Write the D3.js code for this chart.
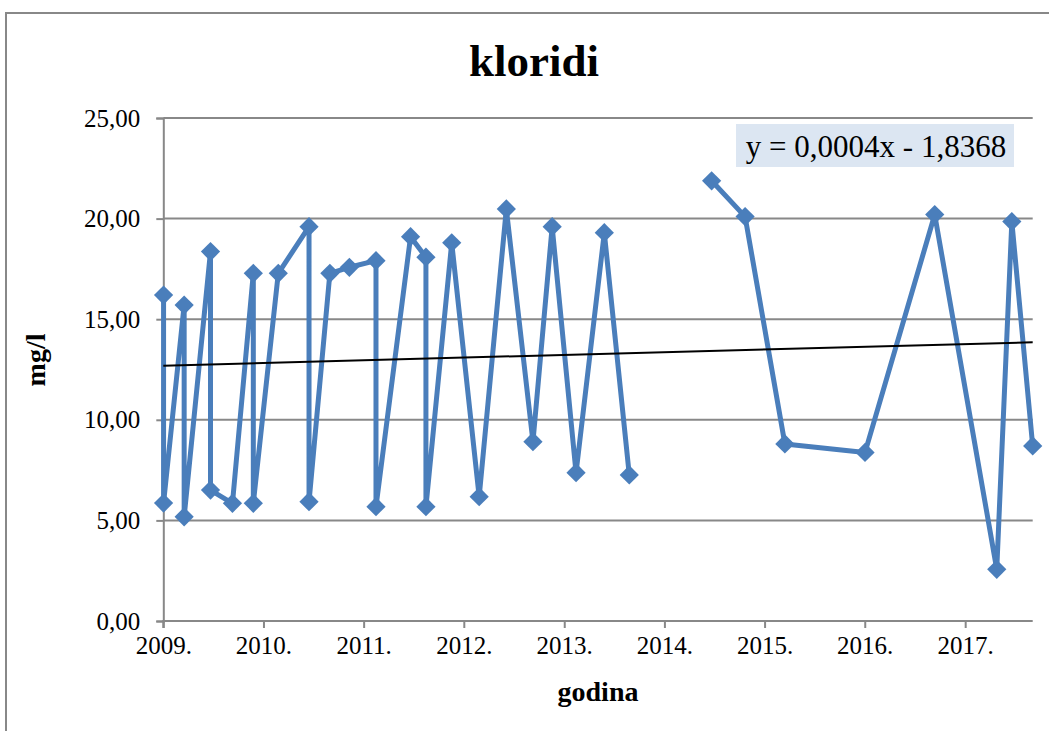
<!DOCTYPE html>
<html>
<head>
<meta charset="utf-8">
<script src="https://cdn.jsdelivr.net/npm/d3@7"></script>
<style>
  body { margin: 0; background: #fff; }
  svg { display: block; font-family: 'Liberation Serif', 'Times New Roman', serif; }
  .grid { stroke: #888; stroke-width: 2; }
</style>
</head>
<body>
<div class="container"></div>
<script>
// sampling dates and chloride values (mg/l); null = no sample, line breaks there
const DATES = [
    '2009-01-02', '2009-01-02', '2009-03-18', '2009-03-18', '2009-06-22', '2009-06-22',
    '2009-09-10', '2009-11-25', '2009-11-25', '2010-02-24', '2010-06-16', '2010-06-16',
    '2010-08-31', '2010-11-10', '2011-02-15', '2011-02-15', '2011-06-21', '2011-08-16',
    '2011-08-16', '2011-11-18', '2012-02-26', '2012-06-04', '2012-09-09', '2012-11-18',
    '2013-02-13', '2013-05-27', '2013-08-26', '2014-01-15', '2014-06-22', '2014-10-22',
    '2015-03-16', '2016-01-02', '2016-09-12', '2017-04-26', '2017-06-20', '2017-09-04'
];
const VALUES = [
    16.2, 5.86, 15.7, 5.18, 18.36, 6.51,
    5.85, 17.28, 5.85, 17.28, 19.6, 5.93,
    17.28, 17.58, 17.91, 5.68, 19.1, 18.08,
    5.68, 18.8, 6.18, 20.48, 8.91, 19.6,
    7.37, 19.3, 7.26, null, 21.88, 20.1,
    8.8, 8.38, 20.2, 2.57, 19.85, 8.7
];

// linear trend end values
const TREND_DATES = ['2009-01-01', '2017-09-04'];
const TREND_VALUES = [12.69, 13.85];

const Y_TICKS = [0, 5, 10, 15, 20, 25];
const X_TICK_YEARS = [2009, 2010, 2011, 2012, 2013, 2014, 2015, 2016, 2017];
const X_TICK_LABELS = ['2009.', '2010.', '2011.', '2012.', '2013.', '2014.', '2015.', '2016.', '2017.'];

const TITLE = 'kloridi';
const X_TITLE = 'godina';
const Y_TITLE = 'mg/l';
const EQUATION = 'y = 0,0004x - 1,8368';

const WIDTH = 1049;
const HEIGHT = 731;
const LEFT = 163.3;
const RIGHT = 1032.7;
const TOP = 118;
const BOTTOM = 621;
const BLUE = '#4a7ebb';

const fmt = d3.formatLocale({ decimal: ',', thousands: '.', grouping: [3], currency: ['', ''] }).format('.2f');

const points = DATES.map((d, i) => ({ date: new Date(d + 'T00:00:00'), value: VALUES[i] }));

let svg = d3.select('.container').append('svg')
    .attr('width', WIDTH)
    .attr('height', HEIGHT);

// chart frame
svg.append('rect')
    .attr('x', 6).attr('y', 13)
    .attr('width', WIDTH + 10).attr('height', HEIGHT + 10)
    .attr('fill', 'none').attr('stroke', '#888').attr('stroke-width', 2);

let xScale = d3.scaleTime()
    .domain([new Date(TREND_DATES[0] + 'T00:00:00'), new Date(TREND_DATES[1] + 'T00:00:00')])
    .range([LEFT, RIGHT]);

let yScale = d3.scaleLinear()
    .domain([0, 25])
    .range([BOTTOM, TOP]);

// horizontal grid
svg.append('g').selectAll('line').data(Y_TICKS.filter(t => t > 0))
    .enter().append('line')
    .classed('grid', true)
    .attr('x1', LEFT).attr('x2', RIGHT)
    .attr('y1', d => yScale(d)).attr('y2', d => yScale(d));

// y axis
let yAxis = d3.axisLeft(yScale).tickValues(Y_TICKS).tickSize(7).tickFormat(fmt);
let gy = svg.append('g')
    .attr('transform', `translate(${LEFT}, 0)`)
    .call(yAxis);
gy.select('.domain').attr('stroke', '#888').attr('stroke-width', 2);
gy.selectAll('.tick line').attr('stroke', '#888').attr('stroke-width', 2);
gy.selectAll('.tick text')
    .attr('x', -23)
    .attr('font-size', 25)
    .attr('font-family', 'Liberation Serif')
    .attr('fill', '#000');

// x axis
let xTickDates = X_TICK_YEARS.map(y => new Date(y, 0, 1));
let xAxis = d3.axisBottom(xScale).tickValues(xTickDates).tickSize(7)
    .tickFormat((d, i) => X_TICK_LABELS[i]);
let gx = svg.append('g')
    .attr('transform', `translate(0, ${BOTTOM})`)
    .call(xAxis);
gx.select('.domain').attr('stroke', '#888').attr('stroke-width', 2)
    .attr('d', `M${LEFT},7V0H${RIGHT}`);
gx.selectAll('.tick line').attr('stroke', '#888').attr('stroke-width', 2);
gx.selectAll('.tick text')
    .attr('y', 15)
    .attr('font-size', 25)
    .attr('font-family', 'Liberation Serif')
    .attr('fill', '#000');

// titles
svg.append('text')
    .attr('x', 534).attr('y', 76)
    .attr('text-anchor', 'middle')
    .attr('font-size', 45).attr('font-weight', 'bold')
    .text(TITLE);

svg.append('text')
    .attr('x', (LEFT + RIGHT) / 2).attr('y', 701)
    .attr('text-anchor', 'middle')
    .attr('font-size', 28).attr('font-weight', 'bold')
    .text(X_TITLE);

svg.append('text')
    .attr('text-anchor', 'middle')
    .attr('transform', `translate(45, 360)rotate(-90)`)
    .attr('font-size', 28).attr('font-weight', 'bold')
    .text(Y_TITLE);

// data line
let line = d3.line()
    .defined(p => p.value !== null)
    .x(p => xScale(p.date))
    .y(p => yScale(p.value));

svg.append('path')
    .attr('d', line(points))
    .attr('fill', 'none')
    .attr('stroke', BLUE)
    .attr('stroke-width', 5)
    .attr('stroke-linejoin', 'round');

// diamond markers
let diamond = d3.symbol().type(d3.symbolSquare).size(185);
svg.append('g').selectAll('path')
    .data(points.filter(p => p.value !== null))
    .enter().append('path')
    .attr('d', diamond)
    .attr('fill', BLUE)
    .attr('transform', p => `translate(${xScale(p.date)}, ${yScale(p.value)})rotate(45)`);

// trend line
let trend = TREND_DATES.map((d, i) => ({ date: new Date(d + 'T00:00:00'), value: TREND_VALUES[i] }));
svg.append('path')
    .attr('d', d3.line().x(p => xScale(p.date)).y(p => yScale(p.value))(trend))
    .attr('fill', 'none')
    .attr('stroke', '#000')
    .attr('stroke-width', 2);

// equation label
svg.append('rect')
    .attr('x', 736).attr('y', 124)
    .attr('width', 278).attr('height', 43)
    .attr('fill', '#dce6f2');
svg.append('text')
    .attr('x', 876).attr('y', 157)
    .attr('text-anchor', 'middle')
    .attr('font-size', 31)
    .text(EQUATION);
</script>
</body>
</html>
